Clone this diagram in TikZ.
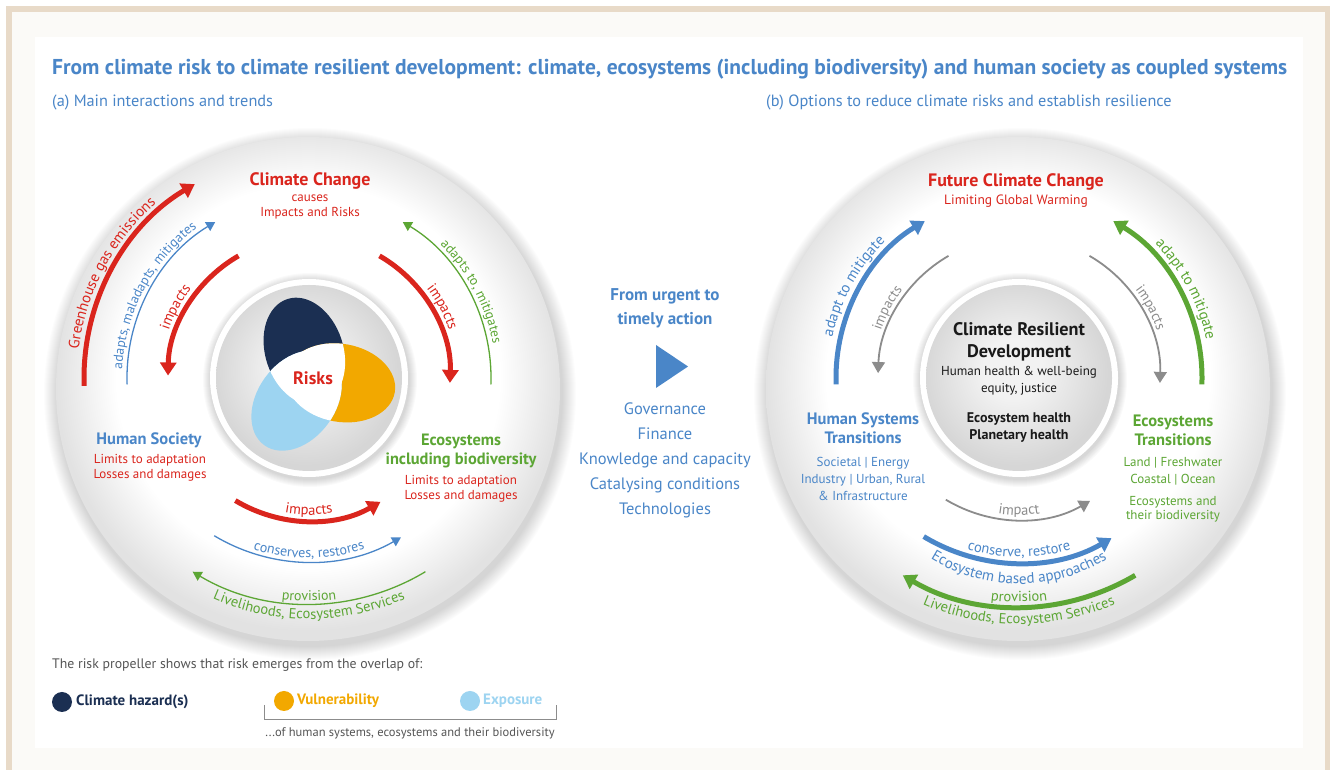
\documentclass[tikz,border=0pt]{standalone}
\usepackage{fontspec}
\setmainfont{PT Sans}
\usetikzlibrary{arrows.meta,calc,decorations.text}

\definecolor{ipblue}{RGB}{74,134,200}
\definecolor{ipred}{RGB}{218,37,29}
\definecolor{ipgreen}{RGB}{92,166,52}
\definecolor{ipgray}{RGB}{140,140,140}
\definecolor{navy}{RGB}{27,47,82}
\definecolor{amber}{RGB}{242,168,0}
\definecolor{sky}{RGB}{157,212,241}
\definecolor{txtgray}{RGB}{85,85,85}
\definecolor{beige}{RGB}{232,218,200}
\definecolor{paper}{RGB}{251,250,247}
\definecolor{rimgray}{RGB}{226,226,226}
\definecolor{discgray}{RGB}{214,214,214}
\definecolor{disclite}{RGB}{242,242,242}
\definecolor{ink}{RGB}{25,25,25}

\pgfdeclareradialshading{bigdisc}{\pgfpoint{0bp}{2bp}}{color(0bp)=(white); color(19bp)=(white); color(25bp)=(rimgray); color(50bp)=(rimgray)}
\pgfdeclareradialshading{innerdisc}{\pgfpoint{-2bp}{3bp}}{color(0bp)=(disclite); color(8bp)=(disclite); color(25bp)=(discgray); color(50bp)=(discgray)}

\newcommand{\fsz}[2]{\fontsize{#1}{#2}\selectfont}
% arc around centre #1 from angle #2 to angle #3 at radius #4
\newcommand{\ringarc}[4]{($(#1)+(#2:#4)$) arc[start angle=#2,end angle=#3,radius=#4]}
% one petal of the risk propeller, pointing at angle #1
\newcommand{\petal}[1]{[rotate=#1] (28,0) ellipse [x radius=55, y radius=39]}

\tikzset{
  lbl/.style={inner sep=0pt, align=center},
  fatarrow/.style={line width=5pt, -{Triangle[width=16pt,length=13pt]}},
  slimarrow/.style={line width=1.3pt, -{Triangle[width=10pt,length=9pt]}},
  greyarrow/.style={line width=1.8pt, draw=ipgray, -{Triangle[width=13pt,length=11pt]}},
  arclabel/.style args={#1/#2/#3}{decorate, decoration={text along path, text align=center, text color=#1, text={|\fsz{#2}{#2}|#3}}},
}

\begin{document}
\begin{tikzpicture}[x=1pt,y=1pt]
\useasboundingbox (0,0) rectangle (1330,770);

% frame and panel
\fill[white] (0,0) rectangle (1330,770);
\fill[beige] (6,0) rectangle (1330,764);
\fill[paper] (12,0) rectangle (1325,758);
\fill[white] (35,22) rectangle (1303,733);

% headings
\node[lbl, anchor=west, font=\bfseries\fsz{21.5}{24}, text=ipblue] (title) at (52,701)
  {From climate risk to climate resilient development: climate, ecosystems (including biodiversity) and human society as coupled systems};
\node[lbl, anchor=west, font=\fsz{16.3}{18}, text=ipblue] (suba) at (52,667) {(a) Main interactions and trends};
\node[lbl, anchor=west, font=\fsz{16.3}{18}, text=ipblue] (subb) at (766,667) {(b) Options to reduce climate risks and establish resilience};

% centres
\coordinate (CL) at (308,381);
\coordinate (CR) at (1018,381);
\coordinate (OL) at (309,392);
\coordinate (OR) at (1019,392);
\coordinate (EB) at (1019,353);

% big discs with soft shadow
\foreach \c in {CL,CR}{
  \foreach \k in {0,...,13}{
    \fill[black, opacity=0.012] ($(\c)+(2,-5)$) circle ({266-\k});
  }
  \shade[shading=bigdisc] (\c) circle (252);
}

% inner discs
\foreach \c in {OL,OR}{
  \foreach \k in {0,...,7}{
    \fill[black, opacity=0.02] ($(\c)+(1,-2)$) circle ({107-\k});
  }
  \fill[white] (\c) circle (99);
  \shade[shading=innerdisc] (\c) circle (93);
}

% ---------------- left: risk propeller ----------------
\coordinate (RC) at (313,392);
\begin{scope}[shift={(RC)}]
  \fill[navy]  \petal{108};
  \fill[amber] \petal{-10};
  \fill[sky]   \petal{234};
  \begin{scope}
    \clip \petal{108};
    \fill[white] \petal{-10};
    \fill[white] \petal{234};
  \end{scope}
  \begin{scope}
    \clip \petal{-10};
    \fill[white] \petal{234};
  \end{scope}
\end{scope}
\node[lbl, font=\bfseries\fsz{18}{20}, text=ipred] (risks) at (RC) {Risks};

% ---------------- left: labels ----------------
\node[lbl, font=\bfseries\fsz{18}{20}, text=ipred] (cc) at (310,589) {Climate Change};
\node[lbl, font=\fsz{13}{15}, text=ipred] (ccsub) at (310,563.5) {causes\\Impacts and Risks};
\node[lbl, font=\bfseries\fsz{16.5}{19}, text=ipblue] (hs) at (149,330) {Human Society};
\node[lbl, font=\fsz{13}{15}, text=ipred] (hssub) at (150,302.5) {Limits to adaptation\\Losses and damages};
\node[lbl, font=\bfseries\fsz{16.4}{19}, text=ipgreen] (eco) at (461,318.5) {Ecosystems\\including biodiversity};
\node[lbl, font=\fsz{13}{15}, text=ipred] (ecosub) at (461,281.5) {Limits to adaptation\\Losses and damages};

% ---------------- left: arrows ----------------
\draw[fatarrow, ipred]   \ringarc{OL}{182}{120.5}{225};
\draw[slimarrow, ipblue] \ringarc{OL}{182}{121}{182};
\draw[fatarrow, ipred]   \ringarc{OL}{120}{179}{141};
\draw[fatarrow, ipred]   \ringarc{OL}{60}{-2}{141};
\draw[slimarrow, ipgreen]\ringarc{OL}{-2}{59}{182};
\draw[fatarrow, ipred]   \ringarc{OL}{-121}{-60}{143};
\draw[slimarrow, ipblue] \ringarc{OL}{-121}{-60}{184};
\draw[slimarrow, ipgreen]\ringarc{OL}{-59}{-121}{226};

\path[arclabel={ipred/15/Greenhouse gas emissions}]      \ringarc{OL}{197}{107}{232};
\path[arclabel={ipblue/13.5/adapts, maladapts, mitigates}] \ringarc{OL}{202}{102}{187};
\path[arclabel={ipred/14.5/impacts}]                     \ringarc{OL}{192}{112}{148};
\path[arclabel={ipred/14.5/impacts}]                     \ringarc{OL}{68}{-12}{148};
\path[arclabel={ipgreen/13.5/adapts to, mitigates}]      \ringarc{OL}{73}{-17}{187};
\path[arclabel={ipred/14.5/impacts}]                     \ringarc{OL}{-130}{-50}{137};
\path[arclabel={ipblue/14/conserves, restores}]          \ringarc{OL}{-135}{-45}{180};
\path[arclabel={ipgreen/14/provision}]                   \ringarc{OL}{-130}{-50}{223};
\path[arclabel={ipgreen/14.5/Livelihoods, Ecosystem Services}] \ringarc{OL}{-140}{-40}{241};

% ---------------- centre column ----------------
\node[lbl, font=\bfseries\fsz{17}{24}, text=ipblue] (urgent) at (665,462) {From urgent to\\timely action};
\fill[ipblue] (656,425) -- (656,382) -- (688,403.5) -- cycle;
\node[lbl, font=\fsz{16.5}{25}, text=ipblue] (enablers) at (665,310)
  {Governance\\Finance\\Knowledge and capacity\\Catalysing conditions\\Technologies};

% ---------------- right: labels ----------------
\node[lbl, font=\bfseries\fsz{18}{20}, text=ipred] (fcc) at (1016,588) {Future Climate Change};
\node[lbl, font=\fsz{13.5}{15}, text=ipred] (lgw) at (1016,569) {Limiting Global Warming};
\node[lbl, font=\bfseries\fsz{16.5}{19}, text=ipblue] (hst) at (863,341.5) {Human Systems\\Transitions};
\node[lbl, font=\fsz{13}{17}, text=ipblue] (hstsub) at (863,291) {Societal | Energy\\Industry | Urban, Rural\\\& Infrastructure};
\node[lbl, font=\bfseries\fsz{16.5}{19}, text=ipgreen] (est) at (1173,339.5) {Ecosystems\\Transitions};
\node[lbl, font=\fsz{13}{17}, text=ipgreen] (estsub) at (1173,298.5) {Land | Freshwater\\Coastal | Ocean};
\node[lbl, font=\fsz{13}{14}, text=ipgreen] (estbio) at (1173,261) {Ecosystems and\\their biodiversity};
\node[lbl, font=\bfseries\fsz{18.2}{22}, text=ink] (crd) at (1019,428) {Climate Resilient\\Development};
\node[lbl, font=\fsz{13}{17}, text=ink] (hh) at (1019,389.5) {Human health \& well-being\\equity, justice};
\node[lbl, font=\bfseries\fsz{14}{17}, text=ink] (eh) at (1019,342.5) {Ecosystem health\\Planetary health};

% ---------------- right: arrows ----------------
\draw[fatarrow, ipblue]  \ringarc{OR}{182}{121}{183};
\draw[greyarrow]         \ringarc{OR}{120}{178}{141};
\draw[greyarrow]         \ringarc{OR}{60}{-2}{141};
\draw[fatarrow, ipgreen] \ringarc{OR}{-2}{59}{183};
\draw[greyarrow]         \ringarc{OR}{-121}{-60}{142};
\draw[fatarrow, ipblue]  \ringarc{OR}{-121}{-60}{185};
\draw[fatarrow, ipgreen] \ringarc{OR}{-59.5}{-120.5}{229};

\path[arclabel={ipblue/15/adapt to mitigate}]   \ringarc{OR}{196}{106}{191};
\path[arclabel={ipgray/14/impacts}]             \ringarc{OR}{192}{112}{146};
\path[arclabel={ipgray/14/impacts}]             \ringarc{OR}{68}{-12}{146};
\path[arclabel={ipgreen/15/adapt to mitigate}]  \ringarc{OR}{73}{-17}{191};
\path[arclabel={ipgray/14.5/impact}]            \ringarc{OR}{-130}{-50}{137};
\path[arclabel={ipblue/14.5/conserve, restore}] \ringarc{OR}{-135}{-45}{179};
\path[arclabel={ipblue/15/Ecosystem based approaches}] \ringarc{EB}{-150}{-30}{167};
\path[arclabel={ipgreen/14.5/provision}]        \ringarc{OR}{-130}{-50}{224};
\path[arclabel={ipgreen/14.5/Livelihoods, Ecosystem Services}] \ringarc{OR}{-140}{-40}{246};

% ---------------- legend ----------------
\node[lbl, anchor=west, font=\fsz{13.8}{17}, text=txtgray] (legtitle) at (52,105)
  {The risk propeller shows that risk emerges from the overlap of:};
\fill[navy]  (62,68) circle (10);
\node[lbl, anchor=west, font=\bfseries\fsz{15}{17}, text=navy] (hazard) at (76,68) {Climate hazard(s)};
\fill[amber] (284,69) circle (10);
\node[lbl, anchor=west, font=\bfseries\fsz{15}{17}, text=amber] (vuln) at (297,69) {Vulnerability};
\fill[sky]   (470,69) circle (10);
\node[lbl, anchor=west, font=\bfseries\fsz{15}{17}, text=sky] (expo) at (483,69) {Exposure};
\coordinate (bl) at (264,65);
\coordinate (br) at (556,65);
\draw[ipgray, line width=1pt] (bl) -- ++(0,-15) -| (br);
\node[lbl, font=\fsz{12.5}{14}, text=txtgray] (legnote) at (410,37)
  {...of human systems, ecosystems and their biodiversity};

\end{tikzpicture}
\end{document}
